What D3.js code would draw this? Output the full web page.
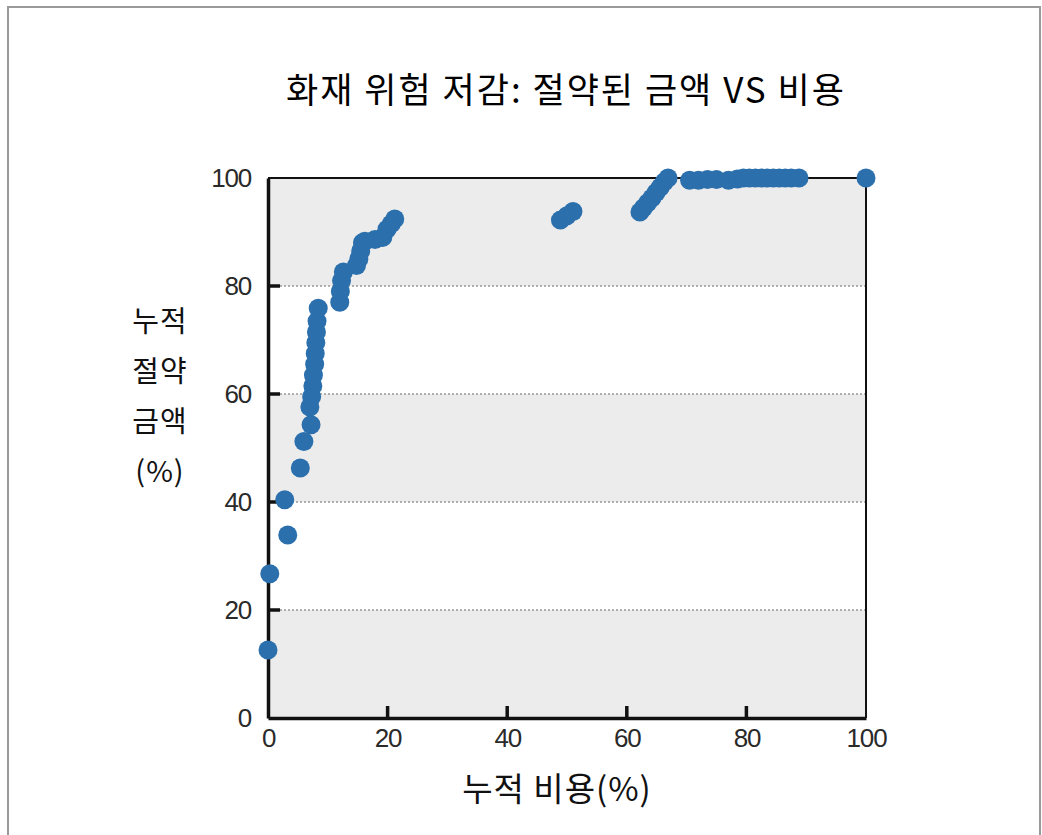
<!DOCTYPE html>
<html>
<head>
<meta charset="utf-8">
<script src="https://cdn.jsdelivr.net/npm/d3@7"></script>
<style>
  body { margin: 0; background: #fff; }
</style>
</head>
<body>
<svg id="chart" width="1042" height="835"></svg>
<script>
// cumulative cost (%) and cumulative saved amount (%)
const costPct = [0, 0.3, 2.8, 3.3, 5.4, 6.0, 7.2, 7.0, 7.3, 7.5, 7.6, 7.8, 7.9, 8.0, 8.1, 8.2, 8.4,
  12.0, 12.1, 12.3, 12.6, 14.8, 15.2, 15.5, 15.8, 16.2, 17.9, 19.2, 19.9, 20.6, 21.2,
  48.9, 50.0, 51.0,
  62.2, 62.8, 63.5, 64.2, 64.9, 65.6, 66.3, 66.9,
  70.5, 72.0, 73.5, 75.0, 77.0, 78.5, 79.5, 80.5, 81.5, 82.5, 83.5, 84.5, 85.5, 86.5, 87.5, 88.8,
  100];
const savedPct = [12.6, 26.7, 40.4, 33.9, 46.3, 51.2, 54.3, 57.6, 59.5, 61.5, 63.5, 65.5, 67.5, 69.5, 71.5, 73.5, 75.9,
  77.0, 79.0, 81.0, 82.6, 83.8, 85.0, 86.5, 88.0, 88.3, 88.6, 89.0, 90.5, 91.5, 92.4,
  92.2, 93.0, 93.8,
  93.7, 94.5, 95.4, 96.3, 97.3, 98.3, 99.3, 100,
  99.6, 99.6, 99.7, 99.7, 99.6, 99.8, 100, 100, 100, 100, 100, 100, 100, 100, 100, 100,
  100];
const tickValues = [0, 20, 40, 60, 80, 100];
const bands = [[0, 20], [40, 60], [80, 100]];

const title = "화재 위험 저감: 절약된 금액 VS 비용";
const xLabel = "누적 비용(%)";
const yLabelLines = ["누적", "절약", "금액", "(%)"];

const svg = d3.select("#chart");

// outer frame of the picture
svg.append("rect")
    .attr("x", 8).attr("y", 7)
    .attr("width", 1032).attr("height", 840)
    .attr("fill", "none")
    .attr("stroke", "#9a9a9a")
    .attr("stroke-width", 2);

const plot = { left: 268, right: 866, top: 178, bottom: 718 };

const x = d3.scaleLinear().domain([0, 100]).range([plot.left, plot.right]);
const y = d3.scaleLinear().domain([0, 100]).range([plot.bottom, plot.top]);

// background bands
svg.selectAll("rect.band").data(bands)
    .join("rect")
    .attr("class", "band")
    .attr("x", plot.left)
    .attr("y", d => y(d[1]))
    .attr("width", plot.right - plot.left)
    .attr("height", d => y(d[0]) - y(d[1]))
    .attr("fill", "#ececec");

// dotted grid
svg.selectAll("line.grid").data([20, 40, 60, 80])
    .join("line")
    .attr("class", "grid")
    .attr("x1", plot.left).attr("x2", plot.right)
    .attr("y1", d => y(d)).attr("y2", d => y(d))
    .attr("stroke", "#999")
    .attr("stroke-width", 1.3)
    .attr("stroke-dasharray", "2,2");

// frame: top and right thinner
svg.append("line")
    .attr("x1", plot.left).attr("x2", plot.right)
    .attr("y1", plot.top).attr("y2", plot.top)
    .attr("stroke", "#111").attr("stroke-width", 2);
svg.append("line")
    .attr("x1", plot.right).attr("x2", plot.right)
    .attr("y1", plot.top).attr("y2", plot.bottom)
    .attr("stroke", "#111").attr("stroke-width", 2);

// axes drawn with d3, ticks pointing into the plot
const xAxis = svg.append("g")
    .attr("transform", "translate(0," + plot.bottom + ")")
    .call(d3.axisBottom(x).tickValues(tickValues).tickSize(0).tickPadding(11));
const yAxis = svg.append("g")
    .attr("transform", "translate(" + plot.left + ",0)")
    .call(d3.axisLeft(y).tickValues(tickValues).tickSize(0).tickPadding(17));

[xAxis, yAxis].forEach(g => {
    g.select(".domain").attr("stroke", "#111").attr("stroke-width", 3.5);
    g.selectAll("text")
        .attr("font-family", "'Liberation Sans', Arial, sans-serif")
        .attr("font-size", 26)
        .attr("letter-spacing", -1.2)
        .attr("fill", "#2a2a2a");
});
xAxis.selectAll("text").attr("dy", "0.71em");

svg.selectAll("line.xtick").data([20, 40, 60, 80])
    .join("line")
    .attr("class", "xtick")
    .attr("x1", d => x(d)).attr("x2", d => x(d))
    .attr("y1", plot.bottom).attr("y2", plot.bottom - 12)
    .attr("stroke", "#111").attr("stroke-width", 3.5);
svg.selectAll("line.ytick").data([20, 40, 60, 80])
    .join("line")
    .attr("class", "ytick")
    .attr("x1", plot.left).attr("x2", plot.left + 12)
    .attr("y1", d => y(d)).attr("y2", d => y(d))
    .attr("stroke", "#111").attr("stroke-width", 3.5);

// points
const points = costPct.map((c, i) => ({ cost: c, saved: savedPct[i] }));
svg.selectAll("circle.pt").data(points)
    .join("circle")
    .attr("class", "pt")
    .attr("cx", d => x(d.cost))
    .attr("cy", d => y(d.saved))
    .attr("r", 9.5)
    .attr("fill", "#2b6fac");

// texts
const korFont = "'Noto Sans CJK KR', 'Noto Sans', sans-serif";
svg.append("text")
    .attr("x", 566).attr("y", 103)
    .attr("text-anchor", "middle")
    .attr("font-family", korFont)
    .attr("font-size", 35)
    .attr("letter-spacing", 2)
    .attr("fill", "#000")
    .text(title);

svg.append("text")
    .attr("x", 557).attr("y", 801)
    .attr("text-anchor", "middle")
    .attr("font-family", korFont)
    .attr("font-size", 33)
    .attr("letter-spacing", 1)
    .attr("fill", "#111")
    .text(xLabel);

svg.selectAll("text.ylab").data(yLabelLines)
    .join("text")
    .attr("class", "ylab")
    .attr("x", 160)
    .attr("y", (d, i) => 332 + i * 50)
    .attr("text-anchor", "middle")
    .attr("font-family", korFont)
    .attr("font-size", 29)
    .attr("letter-spacing", 1)
    .attr("fill", "#111")
    .text(d => d);
</script>
</body>
</html>
